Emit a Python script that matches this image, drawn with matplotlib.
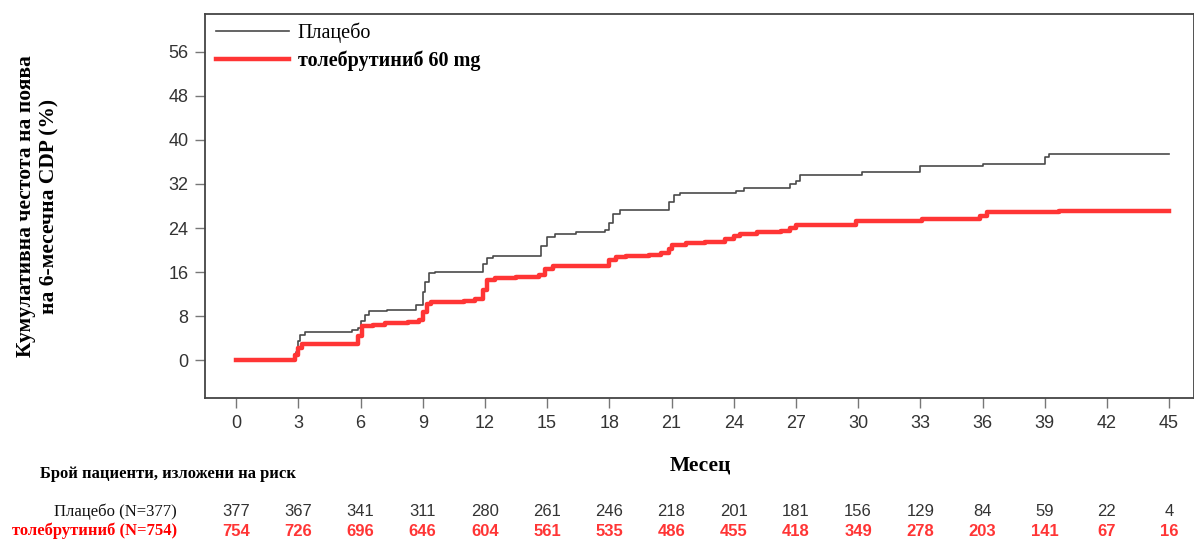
import matplotlib
matplotlib.use('Agg')
import matplotlib.pyplot as plt
from matplotlib.transforms import blended_transform_factory

# Плацебо - стъпкова крива (месец, %)
placebo_t = [0, 2.9, 3.0, 3.1, 3.3, 5.6, 5.9, 6.0, 6.2, 6.4, 7.3, 8.7, 9.0, 9.1, 9.3, 9.6,
             11.9, 12.1, 12.4, 14.7, 15.0, 15.4, 16.4, 17.8, 18.0, 18.2, 18.5, 20.9, 21.1,
             21.4, 24.1, 24.5, 26.7, 27.0, 27.2, 30.2, 33.0, 36.0, 39.0, 39.2, 45.0]
placebo_v = [0, 1.5, 3.5, 4.6, 5.1, 5.45, 5.8, 7.2, 8.3, 8.9, 9.2, 10.0, 12.5, 14.2, 15.8, 16.0,
             17.5, 18.6, 19.0, 20.8, 22.4, 22.9, 23.2, 23.6, 25.0, 26.5, 27.2, 28.8, 30.0,
             30.4, 30.8, 31.3, 32.05, 32.6, 33.7, 34.2, 35.25, 35.6, 36.8, 37.35, 37.35]

# толебрутиниб 60 mg
tole_t = [0, 2.85, 3.0, 3.2, 5.9, 6.05, 6.6, 7.2, 8.3, 8.8, 9.0, 9.2, 9.4, 11.0, 11.5, 11.9,
          12.1, 12.5, 13.5, 14.6, 14.9, 15.3, 16.5, 18.0, 18.3, 18.8, 19.9, 20.5, 20.9, 21.0,
          21.7, 22.6, 23.6, 24.0, 24.3, 25.1, 26.3, 26.7, 27.0, 29.9, 33.1, 35.9, 36.2, 39.0,
          39.7, 45.0]
tole_v = [0, 1.0, 2.2, 2.9, 4.5, 6.2, 6.5, 6.8, 7.0, 7.4, 8.8, 10.2, 10.6, 10.8, 11.1, 12.8,
          14.6, 14.95, 15.2, 15.55, 16.5, 17.1, 17.2, 18.2, 18.75, 19.0, 19.2, 19.5, 20.2, 21.0,
          21.3, 21.5, 21.95, 22.6, 23.0, 23.2, 23.4, 24.0, 24.5, 25.2, 25.7, 26.2, 26.9, 27.0,
          27.1, 27.1]

months = list(range(0, 46, 3))
risk_placebo = [377, 367, 341, 311, 280, 261, 246, 218, 201, 181, 156, 129, 84, 59, 22, 4]
risk_tole = [754, 726, 696, 646, 604, 561, 535, 486, 455, 418, 349, 278, 203, 141, 67, 16]

gray = '#4a4a4a'
red = '#ff3535'
serif = 'Liberation Serif'

fig = plt.figure(figsize=(11.94, 5.5), dpi=100)
ax = fig.add_axes([205 / 1194, 1 - 398 / 550, 989 / 1194, 384 / 550])

ax.plot(placebo_t, placebo_v, drawstyle='steps-post', color=gray, lw=1.2, label='Плацебо')
ax.plot(tole_t, tole_v, drawstyle='steps-post', color=red, lw=3.2, label='толебрутиниб 60 mg')

ax.set_xlim(-1.5, 46.2)
ax.set_ylim(-6.8, 62.8)
ax.set_xticks(months)
ax.set_yticks(range(0, 57, 8))
ax.tick_params(direction='out', length=7, width=1, color='#777777', labelcolor='#333333',
               labelsize=13, pad=5)
for lab in ax.get_xticklabels() + ax.get_yticklabels():
    lab.set_family('Liberation Sans')
for s in ax.spines.values():
    s.set_color('#444444')
    s.set_linewidth(1.3)

leg = ax.legend(loc='upper left', frameon=False, handlelength=3.6, handletextpad=0.45,
                borderaxespad=0.0, labelspacing=0.4, prop={'family': serif, 'size': 14.5},
                bbox_to_anchor=(0.003, 1.0))
leg.get_texts()[1].set_fontweight('bold')

# надписи на осите
fig.text(38 / 1194, 1 - 206 / 550, 'Кумулативна честота на поява\nна 6-месечна CDP (%)',
         rotation=90, ha='center', va='center', family=serif, fontweight='bold',
         fontsize=15.5, linespacing=1.2)
fig.text(700 / 1194, 1 - 466 / 550, 'Месец', ha='center', va='center', family=serif,
         fontweight='bold', fontsize=15.5)

# таблица с пациенти в риск
fig.text(40 / 1194, 1 - 474 / 550, 'Брой пациенти, изложени на риск', ha='left', va='center',
         family=serif, fontweight='bold', fontsize=12)
fig.text(177 / 1194, 1 - 512 / 550, 'Плацебо (N=377)', ha='right', va='center',
         family=serif, fontsize=12, color='#111111')
fig.text(177 / 1194, 1 - 531 / 550, 'толебрутиниб (N=754)', ha='right', va='center',
         family=serif, fontweight='bold', fontsize=12, color='#ff0000')

tr = blended_transform_factory(ax.transData, fig.transFigure)
for m, a, b in zip(months, risk_placebo, risk_tole):
    ax.text(m, 1 - 512 / 550, str(a), transform=tr, ha='center', va='center',
            family=['Liberation Sans Narrow', 'Liberation Sans'], fontsize=12, color='#333333')
    ax.text(m, 1 - 531 / 550, str(b), transform=tr, ha='center', va='center',
            family=['Liberation Sans Narrow', 'Liberation Sans'], fontsize=12,
            fontweight='bold', color=red)

fig.savefig('out.png', dpi=100)
